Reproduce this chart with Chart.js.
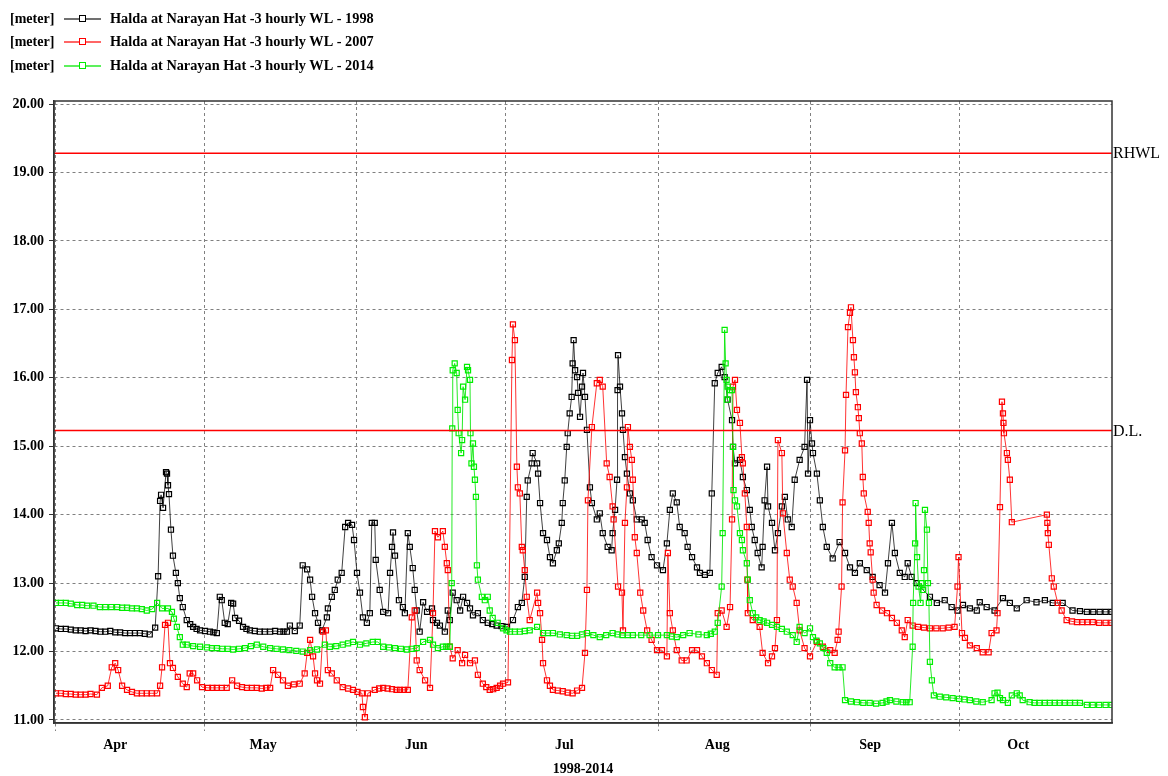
<!doctype html>
<html lang="en">
<head>
<meta charset="utf-8">
<title>Halda at Narayan Hat - 3 hourly WL</title>
<script src="https://cdn.jsdelivr.net/npm/chart.js@4.4.1/dist/chart.umd.min.js"></script>
<style>
  html, body { margin: 0; padding: 0; background: #fff; }
  #wrap { width: 1168px; height: 776px; }
</style>
</head>
<body>
<div id="wrap"><canvas id="chart" width="1168" height="776"></canvas></div>
<script>
// x = days counted from 1 April, y = water level in meter
var months = ['Apr', 'May', 'Jun', 'Jul', 'Aug', 'Sep', 'Oct'];
var monthStart = [0, 30, 61, 91, 122, 153, 183];
var yTicks = [11, 12, 13, 14, 15, 16, 17, 18, 19, 20];

var rhwl = 19.28;        // RHWL
var dangerLevel = 15.23; // D.L.

var wl1998 = [[0,12.34],[1,12.33],[2,12.33],[3,12.32],[4,12.31],[5,12.31],[6,12.30],[7,12.31],[8,12.30],[9,12.29],[10,12.29],[11,12.30],[12,12.28],[13,12.28],[14,12.27],[15,12.27],[16,12.27],[17,12.27],[18,12.26],[19,12.25],[20.1,12.35],[20.7,13.1],[21.1,14.2],[21.3,14.29],[21.7,14.1],[22.3,14.62],[22.5,14.6],[22.7,14.43],[22.9,14.3],[23.3,13.78],[23.7,13.4],[24.3,13.15],[24.7,13.0],[25.1,12.78],[25.7,12.65],[26.5,12.46],[27.2,12.4],[27.8,12.36],[28.5,12.33],[29.2,12.31],[30.2,12.3],[31.2,12.29],[31.9,12.28],[32.6,12.27],[33.2,12.8],[33.6,12.75],[34.2,12.42],[34.8,12.4],[35.5,12.71],[35.9,12.7],[36.3,12.49],[37.1,12.45],[37.9,12.36],[38.6,12.33],[39.3,12.31],[40.3,12.30],[41.3,12.29],[42.3,12.29],[43.4,12.29],[44.4,12.30],[45.4,12.29],[46.1,12.29],[46.8,12.29],[47.4,12.38],[48.4,12.3],[49.4,12.38],[50.0,13.26],[50.9,13.2],[51.5,13.05],[51.9,12.8],[52.5,12.56],[53.1,12.42],[53.9,12.31],[54.9,12.5],[55.1,12.63],[55.9,12.8],[56.5,12.9],[57.1,13.05],[57.9,13.15],[58.6,13.82],[59.2,13.88],[60.0,13.85],[60.4,13.63],[61.0,13.15],[61.6,12.86],[62.2,12.5],[63.0,12.42],[63.6,12.56],[64.0,13.88],[64.6,13.88],[64.8,13.34],[65.6,12.9],[66.3,12.58],[67.3,12.56],[67.7,13.15],[68.1,13.53],[68.3,13.74],[68.7,13.4],[69.5,12.75],[70.3,12.65],[70.7,12.56],[71.3,13.73],[71.7,13.53],[72.3,13.22],[72.7,12.9],[73.1,12.6],[73.7,12.29],[74.4,12.72],[75.2,12.58],[76.2,12.63],[76.4,12.46],[77.2,12.42],[77.8,12.38],[78.8,12.29],[79.4,12.6],[79.8,12.46],[80.4,12.86],[81.2,12.75],[81.9,12.6],[82.5,12.8],[83.3,12.71],[83.9,12.63],[84.5,12.53],[85.5,12.56],[86.5,12.46],[87.5,12.42],[88.4,12.40],[89.3,12.38],[90.3,12.37],[91.4,12.36],[92.6,12.46],[93.6,12.65],[94.4,12.71],[95.0,13.09],[95.4,14.26],[95.6,14.5],[96.4,14.75],[96.6,14.9],[97.5,14.75],[97.7,14.6],[98.1,14.17],[98.7,13.73],[99.5,13.63],[100.1,13.38],[100.7,13.29],[101.5,13.48],[101.9,13.58],[102.5,13.88],[102.7,14.17],[103.1,14.5],[103.5,14.99],[103.7,15.19],[104.1,15.48],[104.5,15.72],[104.7,16.21],[104.9,16.55],[105.2,16.11],[105.6,16.01],[105.8,15.78],[106.2,15.43],[106.6,15.87],[106.8,16.07],[107.2,15.72],[107.6,15.24],[108.2,14.4],[108.6,14.17],[109.6,13.93],[110.2,14.02],[110.8,13.73],[111.8,13.53],[112.6,13.48],[112.8,13.73],[113.3,14.07],[113.7,14.51],[113.8,15.82],[113.9,16.33],[114.3,15.87],[114.7,15.48],[114.9,15.24],[115.3,14.84],[115.7,14.6],[116.3,14.31],[116.9,14.21],[117.7,13.93],[118.7,13.93],[119.3,13.88],[119.9,13.63],[120.7,13.38],[121.8,13.26],[123.0,13.19],[123.8,13.58],[124.4,14.07],[125.0,14.31],[125.8,14.18],[126.4,13.82],[127.4,13.73],[128.0,13.53],[128.9,13.38],[129.9,13.23],[130.5,13.15],[131.5,13.12],[132.5,13.15],[132.9,14.31],[133.5,15.92],[134.1,16.07],[134.9,16.16],[135.5,16.01],[136.1,15.68],[137.0,15.38],[137.2,14.99],[137.6,14.75],[138.6,14.8],[139.2,14.55],[140.0,14.36],[140.6,14.07],[141.0,13.82],[141.6,13.63],[142.2,13.44],[143.0,13.23],[143.2,13.53],[143.6,14.21],[144.1,14.7],[144.3,14.12],[145.1,13.88],[145.7,13.48],[146.3,13.73],[147.1,14.12],[147.7,14.26],[148.3,13.93],[149.1,13.82],[149.7,14.51],[150.7,14.8],[151.7,14.99],[152.2,15.97],[152.4,14.6],[152.8,15.38],[153.2,15.04],[153.4,14.9],[154.2,14.6],[154.8,14.21],[155.4,13.82],[156.2,13.53],[157.4,13.36],[158.8,13.6],[159.9,13.44],[160.9,13.23],[161.9,13.15],[162.9,13.29],[164.3,13.19],[165.5,13.09],[166.9,12.97],[168.0,12.86],[168.6,13.29],[169.4,13.88],[170.0,13.44],[171.0,13.15],[172.0,13.09],[172.6,13.29],[173.4,13.09],[174.4,13.0],[175.7,12.9],[177.1,12.8],[178.5,12.71],[180.1,12.75],[181.5,12.65],[182.7,12.6],[183.8,12.68],[185.2,12.63],[186.6,12.6],[187.2,12.72],[188.6,12.65],[190.2,12.6],[191.9,12.78],[193.3,12.71],[194.7,12.63],[196.7,12.75],[198.7,12.72],[200.4,12.75],[202.0,12.71],[204.0,12.71],[206.0,12.6],[207.5,12.59],[208.9,12.58],[210.2,12.58],[211.5,12.58],[212.7,12.58],[213.9,12.58]];

var wl2007 = [[0,11.39],[1,11.39],[2,11.38],[3,11.38],[4,11.37],[5,11.37],[6,11.37],[7,11.38],[8.3,11.37],[9.3,11.47],[10.5,11.5],[11.3,11.77],[12.0,11.83],[12.6,11.73],[13.4,11.5],[14.4,11.44],[15.4,11.41],[16.4,11.39],[17.4,11.39],[18.4,11.39],[19.4,11.39],[20.5,11.39],[21.1,11.5],[21.5,11.77],[22.1,12.39],[22.7,12.42],[23.1,11.83],[23.7,11.76],[24.7,11.63],[25.7,11.53],[26.5,11.48],[27.1,11.68],[27.8,11.68],[28.6,11.58],[29.6,11.48],[30.8,11.47],[31.7,11.47],[32.6,11.47],[33.6,11.47],[34.6,11.47],[35.7,11.58],[36.7,11.5],[37.7,11.48],[38.7,11.47],[39.7,11.47],[40.7,11.47],[41.7,11.46],[42.6,11.47],[43.4,11.47],[44.0,11.73],[45.0,11.66],[46.0,11.58],[47.0,11.5],[48.2,11.52],[49.4,11.53],[50.4,11.68],[50.9,11.98],[51.5,12.17],[52.1,11.93],[52.5,11.68],[52.9,11.58],[53.5,11.53],[54.1,12.29],[54.7,12.31],[55.1,11.73],[55.9,11.68],[56.9,11.58],[58.1,11.48],[59.2,11.46],[60.2,11.44],[61.1,11.41],[62.0,11.39],[62.2,11.19],[62.6,11.04],[63.2,11.39],[64.6,11.44],[65.5,11.46],[66.3,11.47],[67.2,11.46],[68.1,11.45],[69.0,11.44],[69.7,11.44],[70.5,11.44],[71.3,11.44],[72.1,12.5],[72.7,12.6],[73.1,11.87],[73.7,11.73],[74.8,11.58],[75.8,11.47],[76.4,12.56],[76.8,13.76],[77.4,13.67],[78.4,13.76],[78.8,13.53],[79.2,13.29],[79.4,13.19],[79.8,12.07],[80.4,11.9],[81.4,12.02],[82.3,11.83],[82.9,11.95],[83.9,11.83],[84.9,11.87],[85.5,11.66],[86.5,11.53],[87.2,11.48],[87.9,11.44],[88.6,11.45],[89.3,11.47],[90.0,11.5],[90.6,11.53],[91.6,11.55],[92.4,16.26],[92.6,16.78],[93.0,16.55],[93.4,14.7],[93.6,14.4],[94.0,14.31],[94.4,13.53],[94.6,13.48],[95.0,13.19],[95.4,12.8],[96.0,12.46],[97.5,12.86],[97.7,12.71],[98.1,12.56],[98.5,12.17],[98.7,11.83],[99.5,11.58],[100.1,11.5],[100.7,11.44],[101.7,11.43],[102.7,11.42],[103.7,11.40],[104.7,11.39],[105.6,11.43],[106.6,11.47],[107.2,11.98],[107.6,12.9],[107.8,14.21],[108.6,15.28],[109.6,15.92],[110.2,15.97],[110.8,15.87],[111.6,14.75],[112.2,14.55],[112.8,14.12],[113.0,13.93],[113.9,12.95],[114.7,12.86],[114.9,12.31],[115.3,13.88],[115.7,14.4],[115.9,15.28],[116.3,14.99],[116.7,14.8],[116.9,14.51],[117.3,13.67],[117.7,13.44],[118.4,12.86],[119.0,12.6],[119.8,12.31],[120.7,12.17],[121.8,12.02],[122.8,12.02],[123.8,11.93],[124.0,13.44],[124.4,12.56],[125.0,12.31],[125.8,12.02],[126.8,11.87],[127.8,11.87],[128.9,12.02],[129.9,12.02],[130.9,11.93],[131.9,11.83],[132.9,11.73],[133.9,11.66],[134.1,12.56],[134.9,12.6],[135.9,12.36],[136.6,12.65],[137.0,13.93],[137.2,15.87],[137.6,15.97],[138.0,15.53],[138.6,15.34],[139.0,14.84],[139.2,14.75],[139.6,14.31],[140.0,13.82],[140.1,13.05],[140.2,12.56],[141.2,12.46],[142.6,12.36],[143.2,11.98],[144.3,11.83],[145.1,11.93],[145.7,12.05],[146.1,12.46],[146.3,15.09],[147.1,14.9],[147.3,14.02],[148.1,13.44],[148.7,13.05],[149.3,12.95],[150.1,12.71],[150.7,12.31],[151.7,12.05],[152.8,11.93],[154.2,12.14],[155.4,12.07],[156.9,12.02],[157.8,11.98],[158.4,12.17],[158.6,12.29],[159.2,12.95],[159.4,14.18],[159.9,14.94],[160.1,15.75],[160.5,16.74],[160.9,16.95],[161.1,17.03],[161.5,16.55],[161.7,16.3],[161.9,16.08],[162.1,15.79],[162.5,15.57],[162.7,15.41],[162.9,15.19],[163.3,15.04],[163.5,14.55],[163.7,14.31],[164.5,14.04],[164.7,13.88],[164.9,13.58],[165.1,13.45],[165.5,13.05],[165.7,12.86],[166.3,12.68],[167.4,12.6],[168.4,12.56],[169.4,12.49],[170.4,12.42],[171.4,12.31],[172.0,12.21],[172.6,12.46],[173.6,12.38],[174.7,12.36],[175.9,12.35],[177.1,12.34],[178.4,12.34],[179.7,12.34],[180.9,12.35],[182.1,12.36],[182.7,12.95],[182.9,13.38],[183.6,12.27],[184.2,12.2],[185.2,12.09],[186.6,12.05],[187.8,11.99],[189.0,11.99],[189.6,12.27],[190.6,12.31],[190.8,12.56],[191.3,14.11],[191.7,15.65],[191.9,15.48],[192.0,15.34],[192.1,15.19],[192.7,14.9],[192.9,14.8],[193.3,14.51],[193.7,13.89],[200.8,14.0],[200.9,13.88],[201.0,13.73],[201.2,13.56],[201.8,13.07],[202.2,12.95],[203.0,12.71],[203.8,12.6],[204.8,12.46],[205.9,12.44],[206.9,12.43],[208.0,12.43],[209.0,12.43],[210.1,12.43],[211.4,12.42],[212.7,12.42],[213.9,12.42]];

var wl2014 = [[0,12.71],[1,12.71],[2,12.71],[3,12.70],[4.3,12.68],[5.3,12.68],[6.3,12.67],[7.6,12.67],[8.9,12.65],[10.0,12.65],[11.2,12.65],[12.4,12.65],[13.4,12.64],[14.4,12.64],[15.4,12.63],[16.4,12.63],[17.4,12.62],[18.4,12.6],[19.5,12.62],[20.5,12.71],[21.5,12.63],[22.7,12.63],[23.5,12.58],[23.9,12.48],[24.5,12.36],[25.1,12.21],[25.7,12.1],[26.5,12.1],[27.8,12.08],[29.2,12.07],[30.6,12.06],[31.6,12.05],[32.6,12.05],[33.7,12.04],[34.8,12.04],[35.9,12.03],[37.1,12.04],[38.3,12.05],[39.5,12.08],[40.7,12.1],[42.0,12.07],[43.4,12.05],[44.7,12.04],[46.0,12.03],[47.3,12.02],[48.7,12.01],[50.0,12.0],[51.5,12.02],[52.9,12.03],[54.5,12.1],[55.5,12.07],[56.8,12.08],[58.1,12.1],[59.2,12.12],[60.2,12.14],[61.6,12.1],[62.9,12.12],[64.2,12.14],[65.2,12.14],[66.3,12.07],[67.5,12.06],[68.7,12.05],[69.9,12.04],[71.1,12.03],[72.1,12.04],[73.1,12.05],[74.4,12.14],[75.8,12.17],[76.4,12.1],[77.4,12.05],[78.4,12.07],[79.1,12.07],[79.8,12.07],[80.2,13.0],[80.3,15.26],[80.4,16.11],[80.8,16.21],[81.2,16.07],[81.4,15.53],[81.6,15.19],[82.1,14.9],[82.3,15.09],[82.5,15.87],[82.9,15.68],[83.3,16.16],[83.5,16.11],[83.9,15.97],[84.0,15.19],[84.2,14.75],[84.5,15.04],[84.7,14.7],[84.9,14.51],[85.1,14.26],[85.3,13.26],[85.5,13.05],[86.3,12.8],[86.9,12.75],[87.5,12.8],[87.9,12.6],[88.5,12.49],[89.5,12.42],[90.6,12.34],[91.3,12.31],[92.0,12.29],[93.0,12.29],[94.0,12.29],[95.0,12.3],[96.0,12.31],[97.5,12.36],[98.7,12.27],[99.7,12.27],[100.7,12.27],[102.1,12.25],[103.5,12.24],[104.6,12.23],[105.6,12.23],[106.6,12.25],[107.6,12.27],[108.9,12.24],[110.2,12.21],[111.5,12.24],[112.8,12.27],[113.8,12.25],[114.8,12.24],[115.9,12.24],[116.9,12.24],[118.6,12.24],[120.3,12.24],[122.0,12.24],[123.8,12.24],[124.8,12.22],[125.8,12.21],[127.1,12.24],[128.4,12.27],[130.2,12.25],[131.9,12.24],[132.7,12.26],[133.5,12.29],[134.1,12.42],[134.9,12.95],[135.1,13.73],[135.5,16.7],[135.7,16.21],[135.9,15.97],[136.0,15.68],[136.1,15.87],[136.6,15.82],[137.0,15.82],[137.2,14.99],[137.3,14.36],[137.6,14.21],[138.0,14.12],[138.6,13.73],[139.0,13.63],[139.2,13.48],[140.0,13.29],[140.2,13.05],[140.6,12.75],[141.2,12.56],[141.9,12.5],[142.6,12.46],[143.4,12.44],[144.1,12.42],[145.1,12.39],[146.1,12.36],[147.1,12.33],[148.1,12.29],[149.3,12.24],[150.1,12.14],[150.7,12.36],[151.7,12.27],[152.8,12.34],[153.4,12.21],[154.1,12.16],[154.8,12.12],[155.5,12.05],[156.2,11.98],[156.9,11.83],[157.8,11.77],[158.6,11.77],[159.4,11.77],[159.9,11.29],[161.1,11.27],[162.3,11.26],[163.6,11.25],[164.9,11.25],[166.2,11.24],[167.5,11.25],[168.3,11.27],[169.0,11.29],[170.3,11.27],[171.6,11.26],[172.3,11.26],[173.0,11.26],[173.6,12.07],[173.7,12.71],[174.1,13.58],[174.2,14.17],[174.5,13.38],[174.8,12.95],[175.2,12.71],[175.4,13.0],[175.7,12.9],[175.9,13.19],[176.1,14.07],[176.5,13.78],[176.7,13.0],[176.9,12.71],[177.1,11.85],[177.5,11.58],[177.9,11.36],[179.1,11.34],[180.4,11.33],[181.7,11.32],[183.0,11.31],[184.1,11.3],[185.2,11.29],[186.5,11.27],[187.8,11.26],[189.6,11.29],[190.2,11.39],[190.8,11.4],[191.3,11.32],[191.9,11.29],[192.9,11.25],[193.7,11.36],[194.7,11.39],[195.3,11.36],[195.9,11.29],[197.3,11.26],[198.3,11.25],[199.3,11.25],[200.4,11.25],[201.4,11.25],[202.4,11.25],[203.4,11.25],[204.4,11.25],[205.5,11.25],[206.5,11.25],[207.5,11.25],[208.9,11.22],[210.1,11.22],[211.4,11.22],[212.7,11.22],[213.9,11.22]];

var series = [
    { label: 'Halda at Narayan Hat -3 hourly WL - 1998', data: wl1998, color: '#000000', line: 'rgba(0,0,0,0.75)', order: 3 },
    { label: 'Halda at Narayan Hat -3 hourly WL - 2007', data: wl2007, color: '#ff0000', line: 'rgba(255,0,0,0.8)', order: 2 },
    { label: 'Halda at Narayan Hat -3 hourly WL - 2014', data: wl2014, color: '#00ee00', line: 'rgba(0,230,0,0.85)', order: 1 }
];

var xMin = -0.4, xMax = 214;
var serif = 'Liberation Serif, Times New Roman, serif';

function toPoints(arr) {
    return arr.map(function (p) { return { x: p[0], y: p[1] }; });
}

var datasets = series.map(function (s) {
    return {
        label: s.label,
        data: toPoints(s.data),
        borderColor: s.line,
        borderWidth: 1,
        pointStyle: 'rect',
        pointRadius: 3.6,
        pointBorderWidth: 1.2,
        pointBorderColor: s.color,
        pointBackgroundColor: 'rgba(255,255,255,0)',
        order: s.order
    };
});

// reference levels
[rhwl, dangerLevel].forEach(function (lvl) {
    datasets.push({
        data: [{ x: xMin, y: lvl }, { x: xMax, y: lvl }],
        borderColor: '#ff0000',
        borderWidth: 1.5,
        pointRadius: 0,
        order: 0
    });
});

var frameAndText = {
    id: 'frameAndText',
    afterDatasetsDraw: function (chart) {
        var ctx = chart.ctx, a = chart.chartArea, y = chart.scales.y;
        ctx.save();
        ctx.strokeStyle = '#333';
        ctx.lineWidth = 1.5;
        ctx.strokeRect(a.left, a.top, a.right - a.left, a.bottom - a.top);

        ctx.fillStyle = '#000';
        ctx.font = '16px ' + serif;
        ctx.textBaseline = 'middle';
        ctx.textAlign = 'left';
        ctx.fillText('RHWL', a.right + 1, y.getPixelForValue(rhwl) + 1);
        ctx.fillText('D.L.', a.right + 1, y.getPixelForValue(dangerLevel) + 1);

        // legend
        var rows = [19, 42, 66];
        series.forEach(function (s, i) {
            var ry = rows[i];
            ctx.font = 'bold 14px ' + serif;
            ctx.fillStyle = '#000';
            ctx.fillText('[meter]', 10, ry);
            ctx.strokeStyle = s.line;
            ctx.lineWidth = 1.5;
            ctx.beginPath();
            ctx.moveTo(64, ry);
            ctx.lineTo(101, ry);
            ctx.stroke();
            ctx.strokeStyle = s.color;
            ctx.lineWidth = 1;
            ctx.fillStyle = '#fff';
            ctx.fillRect(79.5, ry - 3.5, 6, 6);
            ctx.strokeRect(79.5, ry - 3.5, 6, 6);
            ctx.fillStyle = '#000';
            ctx.font = 'bold 14.3px ' + serif;
            ctx.fillText(s.label, 110, ry);
        });
        ctx.restore();
    }
};

new Chart(document.getElementById('chart').getContext('2d'), {
    type: 'line',
    data: { datasets: datasets },
    plugins: [frameAndText],
    options: {
        responsive: false,
        devicePixelRatio: 1,
        animation: false,
        layout: { padding: { top: 101, right: 56, left: 0, bottom: 0 } },
        plugins: { legend: { display: false }, tooltip: { enabled: false } },
        scales: {
            x: {
                type: 'linear',
                min: xMin,
                max: xMax,
                afterBuildTicks: function (scale) {
                    var t = [];
                    monthStart.forEach(function (d) {
                        t.push({ value: d });
                        t.push({ value: d + 12 });
                    });
                    scale.ticks = t;
                },
                afterFit: function (scale) { scale.height = 53; },
                ticks: {
                    autoSkip: false,
                    maxRotation: 0,
                    padding: 6,
                    color: '#000',
                    font: { family: serif, size: 14, weight: 'bold' },
                    callback: function (v) {
                        var i = monthStart.indexOf(v - 12);
                        return i >= 0 ? months[i] : '';
                    }
                },
                grid: {
                    color: function (c) {
                        return c.tick && monthStart.indexOf(c.tick.value) >= 0 ? '#808080' : 'rgba(0,0,0,0)';
                    },
                    tickLength: 8,
                    tickBorderDash: [3, 3]
                },
                border: { display: true, color: '#333', width: 1.5, dash: [3, 3] },
                title: {
                    display: true,
                    text: '1998-2014',
                    color: '#000',
                    font: { family: serif, size: 14, weight: 'bold' },
                    padding: { top: 0, bottom: -2 }
                }
            },
            y: {
                type: 'linear',
                min: 10.956,
                max: 20.044,
                afterBuildTicks: function (scale) {
                    scale.ticks = yTicks.map(function (v) { return { value: v }; });
                },
                afterFit: function (scale) { scale.width = 54; },
                ticks: {
                    padding: 5,
                    color: '#000',
                    font: { family: serif, size: 14, weight: 'bold' },
                    callback: function (v) { return v.toFixed(2); }
                },
                grid: {
                    color: '#808080',
                    tickLength: 5,
                    tickColor: '#333',
                    tickBorderDash: []
                },
                border: { display: true, color: '#333', width: 1.5, dash: [3, 3] }
            }
        }
    }
});
</script>
</body>
</html>
